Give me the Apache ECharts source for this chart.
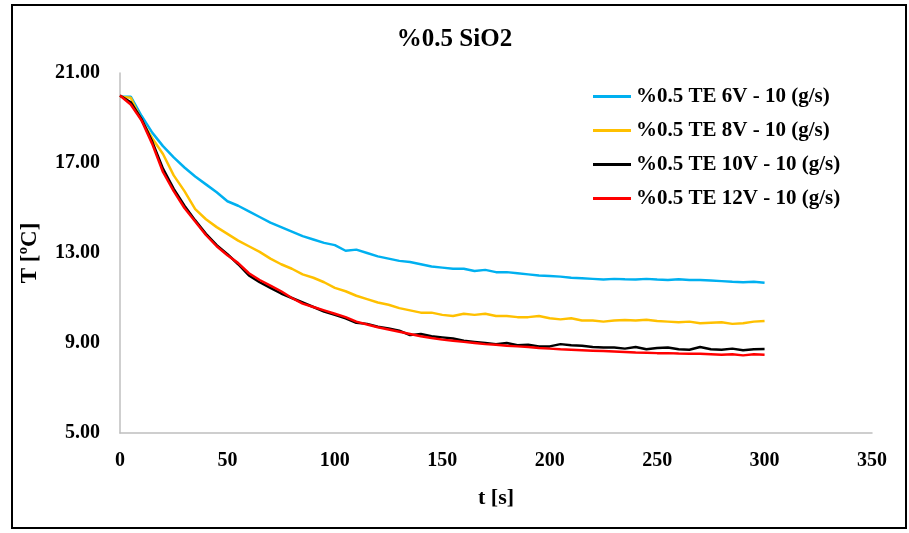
<!DOCTYPE html>
<html><head><meta charset="utf-8">
<script src="https://cdn.jsdelivr.net/npm/echarts@6/dist/echarts.min.js"></script>
<style>html,body{margin:0;padding:0;background:#fff}#c{width:909px;height:533px}</style>
</head><body><div id="c"></div>
<script>
const times = [0,5,10,15,20,25,30,35,40,45,50,55,60,65,70,75,80,85,90,95,100,105,110,115,120,125,130,135,140,145,150,155,160,165,170,175,180,185,190,195,200,205,210,215,220,225,230,235,240,245,250,255,260,265,270,275,280,285,290,295,300];
const seriesNames = ['%0.5 TE 6V - 10 (g/s)','%0.5 TE 8V - 10 (g/s)','%0.5 TE 10V - 10 (g/s)','%0.5 TE 12V - 10 (g/s)'];
const te6V = [19.95,19.95,19.1,18.35,17.75,17.25,16.8,16.4,16.05,15.7,15.3,15.1,14.85,14.6,14.35,14.15,13.95,13.75,13.6,13.45,13.35,13.1,13.15,13.0,12.85,12.75,12.65,12.6,12.5,12.4,12.35,12.3,12.3,12.2,12.25,12.15,12.15,12.1,12.05,12.0,11.98,11.95,11.9,11.88,11.85,11.82,11.85,11.83,11.82,11.85,11.82,11.8,11.83,11.8,11.8,11.78,11.75,11.72,11.7,11.72,11.68];
const te8V = [19.95,19.9,18.9,18.1,17.4,16.45,15.75,14.95,14.5,14.15,13.85,13.55,13.3,13.05,12.75,12.5,12.3,12.05,11.9,11.7,11.45,11.3,11.1,10.95,10.8,10.7,10.55,10.45,10.35,10.35,10.25,10.2,10.3,10.25,10.3,10.2,10.2,10.15,10.15,10.2,10.1,10.05,10.1,10.0,10.0,9.95,10.0,10.02,10.0,10.03,9.98,9.95,9.92,9.95,9.88,9.9,9.92,9.85,9.88,9.95,9.98];
const te10V = [20.0,19.7,18.95,17.95,16.75,15.85,15.1,14.45,13.85,13.35,12.95,12.5,12.0,11.7,11.45,11.2,11.0,10.8,10.6,10.4,10.25,10.1,9.9,9.85,9.72,9.65,9.55,9.35,9.4,9.3,9.25,9.2,9.1,9.05,9.0,8.95,9.0,8.9,8.92,8.85,8.85,8.95,8.9,8.88,8.82,8.8,8.8,8.75,8.82,8.72,8.78,8.8,8.72,8.7,8.82,8.72,8.7,8.75,8.68,8.72,8.73];
const te12V = [20.0,19.6,18.9,17.85,16.6,15.75,15.0,14.4,13.8,13.3,12.9,12.55,12.1,11.8,11.55,11.3,11.0,10.75,10.6,10.45,10.3,10.15,9.95,9.82,9.7,9.6,9.5,9.4,9.3,9.22,9.15,9.1,9.05,9.0,8.95,8.92,8.88,8.85,8.82,8.78,8.75,8.72,8.7,8.68,8.66,8.64,8.62,8.6,8.58,8.57,8.55,8.55,8.53,8.52,8.52,8.5,8.48,8.5,8.45,8.5,8.48];
const yTicks = [5,9,13,17,21];
const xTicks = [0,50,100,150,200,250,300,350];

const colors = ['#00B0F0','#FFC000','#000000','#FF0000'];
const allValues = [te6V, te8V, te10V, te12V];
const font = 'Liberation Serif';
const chart = echarts.init(document.getElementById('c'));
chart.setOption({
  animation: false,
  title: {text: '%0.5 SiO2', left: 'center', top: 22, textStyle: {fontFamily: font, fontWeight: 'bold', fontSize: 25, color: '#000'}},
  grid: {left: 120, right: 37, top: 73, bottom: 100},
  legend: {
    orient: 'vertical', left: 588, top: 81, itemGap: 13, itemWidth: 38, itemHeight: 3, icon: 'rect',
    data: seriesNames,
    textStyle: {fontFamily: font, fontWeight: 'bold', fontSize: 21, color: '#000', padding: [0,0,0,0]}
  },
  xAxis: {
    type: 'value', min: xTicks[0], max: xTicks[xTicks.length-1], interval: 50,
    name: 't [s]', nameLocation: 'middle', nameGap: 54,
    nameTextStyle: {fontFamily: font, fontWeight: 'bold', fontSize: 22, color: '#000'},
    axisLine: {lineStyle: {color: '#BFBFBF', width: 1.5}}, axisTick: {show: false}, splitLine: {show: false},
    axisLabel: {margin: 18, fontFamily: font, fontWeight: 'bold', fontSize: 20, color: '#000'}
  },
  yAxis: {
    type: 'value', min: yTicks[0], max: yTicks[yTicks.length-1], interval: 4,
    name: 'T [ºC]', nameLocation: 'middle', nameGap: 78,
    nameTextStyle: {fontFamily: font, fontWeight: 'bold', fontSize: 23, color: '#000'},
    axisLine: {show: true, lineStyle: {color: '#BFBFBF', width: 1.5}}, axisTick: {show: false}, splitLine: {show: false},
    axisLabel: {margin: 20, fontFamily: font, fontWeight: 'bold', fontSize: 20, color: '#000', formatter: v => v.toFixed(2)}
  },
  graphic: [{type: 'rect', shape: {x: 12, y: 5, width: 894, height: 523}, style: {fill: 'none', stroke: '#000', lineWidth: 2}, silent: true}],
  series: seriesNames.map((n, i) => ({
    name: n, type: 'line', showSymbol: false, symbol: 'none', smooth: false,
    data: times.map((t, j) => [t, allValues[i][j]]),
    lineStyle: {color: colors[i], width: 2.5}, itemStyle: {color: colors[i]}
  }))
});
</script></body></html>
